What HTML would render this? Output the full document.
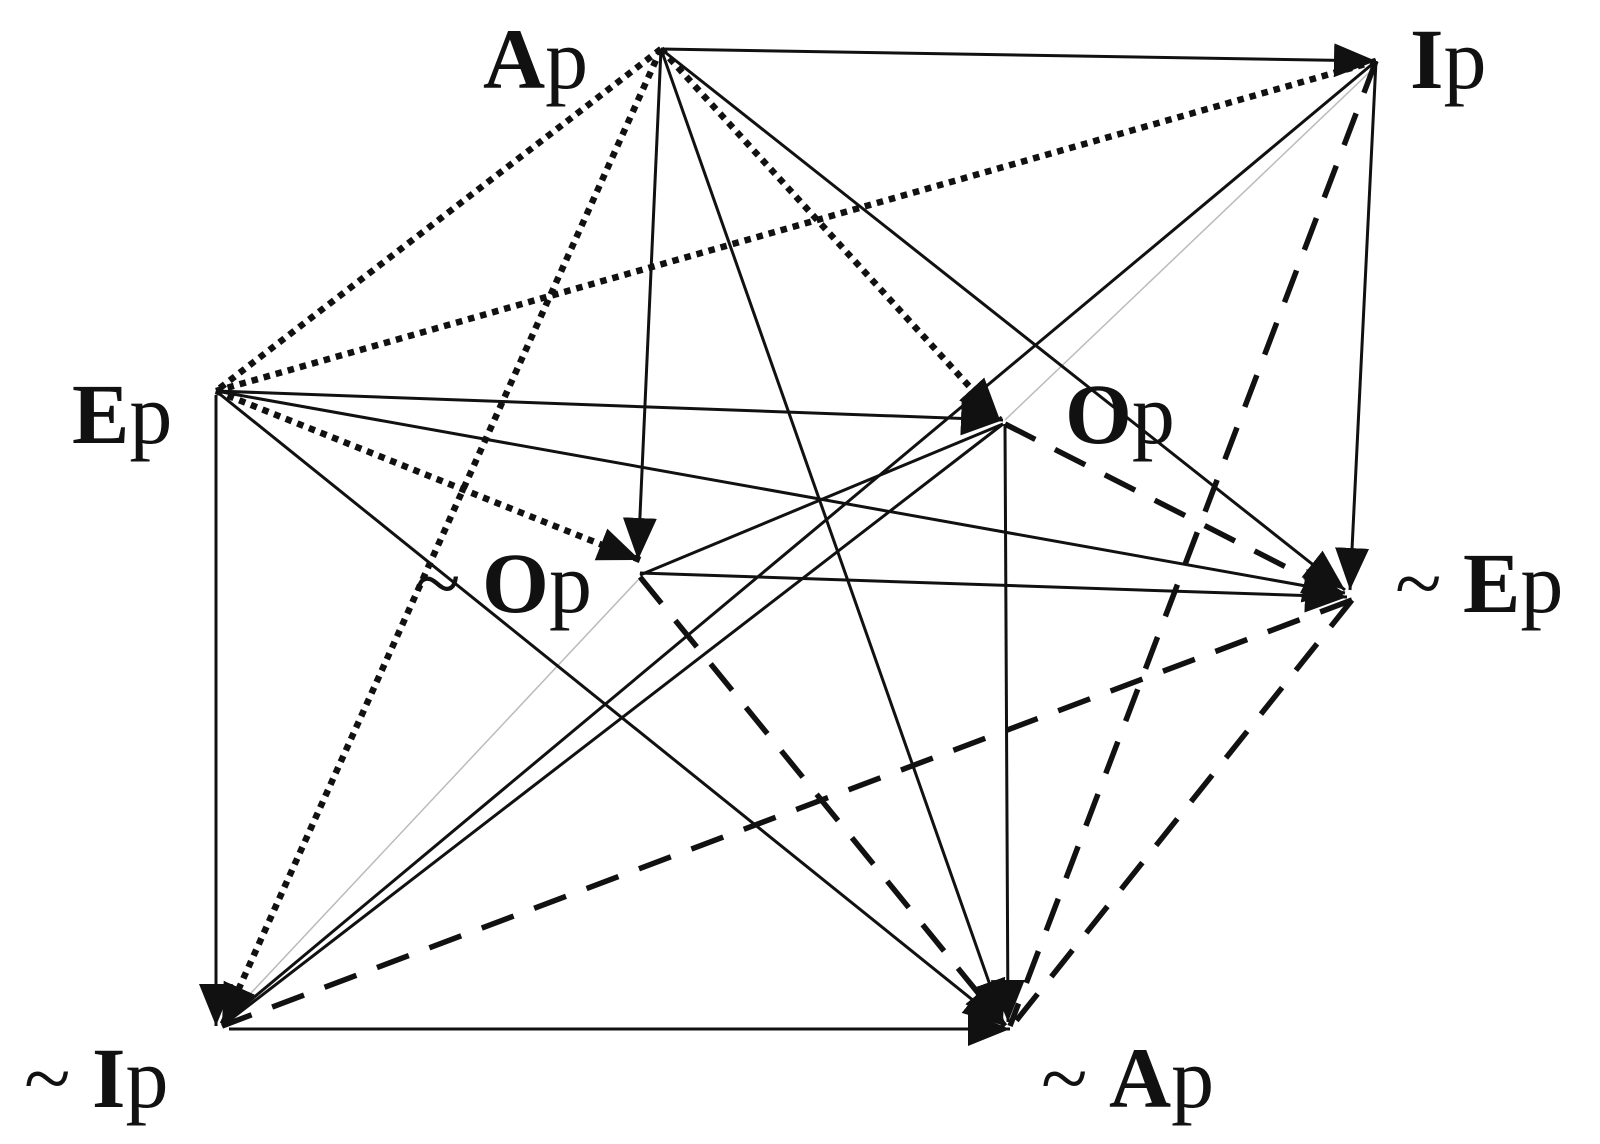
<!DOCTYPE html>
<html><head><meta charset="utf-8"><style>
html,body{margin:0;padding:0;background:#fff}
svg{display:block}
text{font-family:"Liberation Serif","Times New Roman",serif;font-size:86px;fill:#111}
.b{font-weight:bold}
</style></head><body>
<svg width="1600" height="1144" viewBox="0 0 1600 1144" xmlns="http://www.w3.org/2000/svg">
<defs>
<marker id="ar" markerUnits="userSpaceOnUse" markerWidth="46" markerHeight="36" refX="42" refY="17" orient="auto">
<path d="M0,0 L42,17 L0,34 Z" fill="#111"/>
</marker>
</defs>
<g stroke="#111" fill="none">
<line x1="1376" y1="66" x2="1005" y2="420" stroke="#bbb" stroke-width="1.5"/>
<line x1="638" y1="580" x2="222" y2="1024" stroke="#bbb" stroke-width="1.5"/>
<g stroke-width="3">
<line x1="661" y1="49" x2="1376" y2="61" marker-end="url(#ar)"/>
<line x1="661" y1="49" x2="638" y2="560" marker-end="url(#ar)"/>
<line x1="661" y1="49" x2="1003" y2="1022" marker-end="url(#ar)"/>
<line x1="661" y1="49" x2="1345" y2="590" marker-end="url(#ar)"/>
<line x1="1376" y1="61" x2="1350" y2="590" marker-end="url(#ar)"/>
<line x1="1376" y1="61" x2="222" y2="1024"/>
<line x1="216" y1="391" x2="1003" y2="420" marker-end="url(#ar)"/>
<line x1="216" y1="391" x2="1345" y2="593" marker-end="url(#ar)"/>
<line x1="216" y1="395" x2="216" y2="1026" marker-end="url(#ar)"/>
<line x1="216" y1="391" x2="1005" y2="1026" marker-end="url(#ar)"/>
<line x1="1003" y1="424" x2="640" y2="575"/>
<line x1="1005" y1="424" x2="1008" y2="1022" marker-end="url(#ar)"/>
<line x1="640" y1="573" x2="1347" y2="597" marker-end="url(#ar)"/>
<line x1="222" y1="1026" x2="1003" y2="424"/>
<line x1="229" y1="1029" x2="1010" y2="1029" marker-end="url(#ar)"/>
</g>
<g stroke-width="6.5" stroke-dasharray="6.5 6">
<line x1="661" y1="49" x2="216" y2="391"/>
<line x1="661" y1="49" x2="222" y2="1026" marker-end="url(#ar)"/>
<line x1="661" y1="49" x2="1000" y2="420" marker-end="url(#ar)"/>
<line x1="1376" y1="61" x2="216" y2="391"/>
<line x1="216" y1="391" x2="640" y2="560" marker-end="url(#ar)"/>
</g>
<g stroke-width="5.5" stroke-dasharray="34 22">
<line x1="1005" y1="424" x2="1345" y2="597" marker-end="url(#ar)"/>
<line x1="640" y1="577" x2="1005" y2="1026" marker-end="url(#ar)"/>
<line x1="1376" y1="61" x2="1010" y2="1026"/>
<line x1="1352" y1="600" x2="222" y2="1026"/>
<line x1="1352" y1="600" x2="1012" y2="1026"/>
</g>
</g>
<text x="483" y="88"><tspan class="b">A</tspan>p</text>
<text x="1410" y="88"><tspan class="b">I</tspan>p</text>
<text x="72" y="443"><tspan class="b">E</tspan>p</text>
<text x="1065" y="443"><tspan class="b">O</tspan>p</text>
<text x="414" y="612">~ <tspan class="b">O</tspan>p</text>
<text x="1395" y="612">~ <tspan class="b">E</tspan>p</text>
<text x="24" y="1107">~ <tspan class="b">I</tspan>p</text>
<text x="1041" y="1107">~ <tspan class="b">A</tspan>p</text>
</svg>
</body></html>
